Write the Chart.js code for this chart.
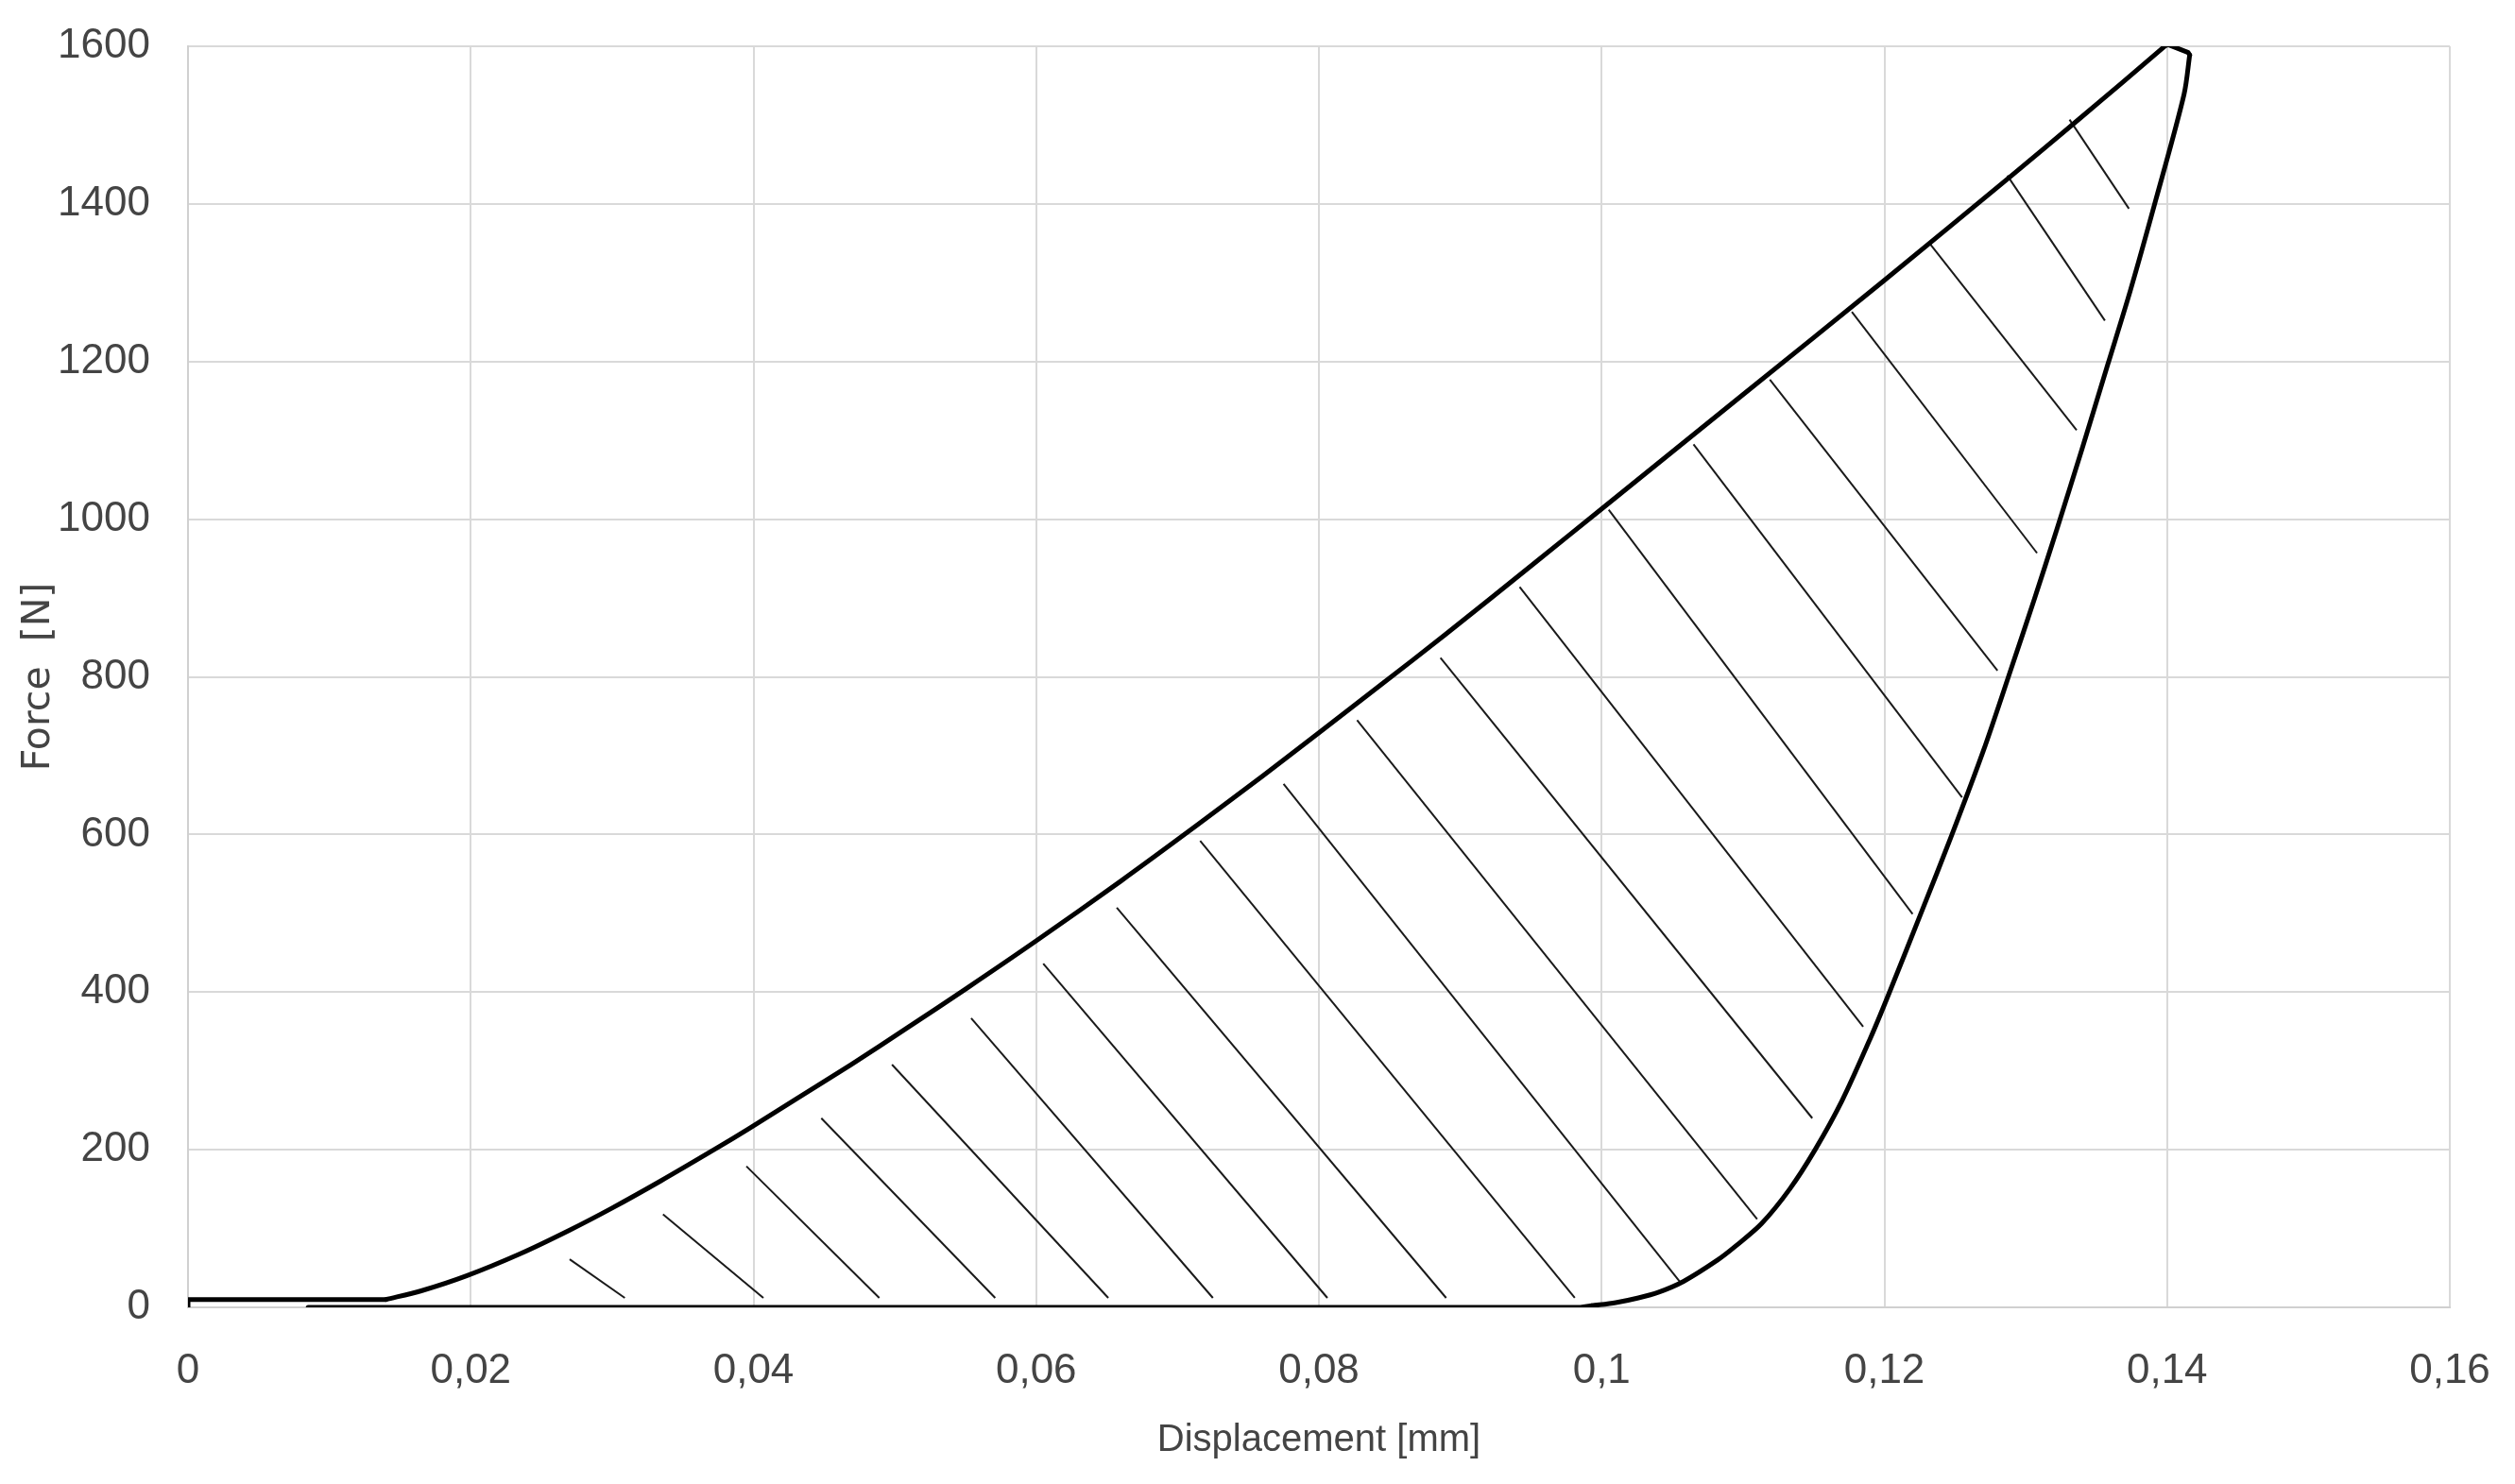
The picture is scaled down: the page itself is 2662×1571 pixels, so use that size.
<!DOCTYPE html>
<html>
<head>
<meta charset="utf-8">
<script src="https://cdn.jsdelivr.net/npm/chart.js@4.4.0/dist/chart.umd.min.js"></script>
<style>
  html, body { margin: 0; padding: 0; background: #fff; }
  #wrap { width: 2662px; height: 1571px; }
</style>
</head>
<body>
<div id="wrap"><canvas id="grafico"></canvas></div>
<script>
// loading branch (displacement mm, force N)
var loadX = [0, 0, 0.0140, 0.0165, 0.0197, 0.0235, 0.0270, 0.0300, 0.0334, 0.0374, 0.0397, 0.0430,
  0.0469, 0.0510, 0.0551, 0.0600, 0.0660, 0.0714, 0.0760, 0.0800, 0.0844, 0.0889, 0.0953, 0.1000,
  0.1100, 0.1200, 0.1290, 0.1338, 0.1367, 0.1399, 0.1401, 0.1415, 0.1416];
var loadY = [0, 10, 10, 21, 40, 68, 98, 126, 160, 202, 227, 264,
  308, 356, 405, 465, 541, 612, 674, 729, 790, 853, 945, 1013,
  1158, 1303, 1436, 1508, 1552, 1601, 1602, 1592, 1589];

// unloading branch
var unloadX = [0.1416, 0.1412, 0.1392, 0.1374, 0.1358, 0.1340, 0.1322, 0.1306, 0.1290,
  0.1270, 0.1247, 0.1227, 0.1203, 0.1190, 0.1170, 0.1151, 0.1133, 0.1113, 0.1095, 0.1082,
  0.1058, 0.1040, 0.1026, 0.1010, 0.0993, 0.0985, 0.0085];
var unloadY = [1589, 1539, 1405, 1290, 1196, 1090, 987, 898, 812,
  706, 596, 505, 397, 341, 262, 200, 150, 106, 78, 60,
  33, 19, 12, 6, 2, 0, 0];

// hatch segments: start on loading curve, end near bottom / unloading curve
var hatchX1 = [0.0270, 0.0336, 0.0395, 0.0448, 0.0498, 0.0554, 0.0605, 0.0657, 0.0716, 0.0775,
  0.0827, 0.0886, 0.0942, 0.1005, 0.1065, 0.1119, 0.1177, 0.1232, 0.1287, 0.1331];
var hatchY1 = [61, 118, 179, 240, 308, 367, 436, 507, 592, 664,
  745, 824, 914, 1012, 1095, 1177, 1263, 1350, 1436, 1507];
var hatchX2 = [0.0309, 0.0407, 0.0489, 0.0571, 0.0651, 0.0725, 0.0806, 0.0890, 0.0981, 0.1056,
  0.1110, 0.1149, 0.1185, 0.1220, 0.1255, 0.1280, 0.1308, 0.1336, 0.1356, 0.1373];
var hatchY2 = [12, 12, 12, 12, 12, 12, 12, 12, 12, 31,
  112, 240, 356, 499, 647, 808, 957, 1113, 1252, 1394];

var xTicks = [0, 0.02, 0.04, 0.06, 0.08, 0.10, 0.12, 0.14, 0.16];
var yTicks = [0, 200, 400, 600, 800, 1000, 1200, 1400, 1600];

function pares(xs, ys) {
  return xs.map(function (x, i) { return { x: x, y: ys[i] }; });
}

var carga = pares(loadX, loadY);
var descarga = pares(unloadX, unloadY);

// pieces of the curve: straight corners, smooth branches
var pedacos = [
  { pts: carga.slice(0, 3), tension: 0 },
  { pts: carga.slice(2, 30), tension: 0.3 },
  { pts: carga.slice(29), tension: 0 },
  { pts: descarga.slice(0, 25), tension: 0.3 },
  { pts: descarga.slice(24), tension: 0 }
];

var datasets = [];
pedacos.forEach(function (p, i) {
  datasets.push({
    label: 'curve' + i,
    data: p.pts,
    showLine: true,
    borderColor: '#000',
    borderWidth: 5,
    borderCapStyle: 'round',
    borderJoinStyle: 'round',
    pointRadius: 0,
    tension: p.tension,
    order: 0
  });
});

hatchX1.forEach(function (x, i) {
  datasets.push({
    label: 'hatch' + i,
    data: [{ x: x, y: hatchY1[i] }, { x: hatchX2[i], y: hatchY2[i] }],
    showLine: true,
    borderColor: '#1a1a1a',
    borderWidth: 2,
    pointRadius: 0,
    order: 1
  });
});

var cinza = '#444';
Chart.defaults.font.family = '"Liberation Sans Narrow", "Liberation Sans", sans-serif';
Chart.defaults.color = cinza;

new Chart(document.getElementById('grafico'), {
  type: 'scatter',
  data: { datasets: datasets },
  options: {
    responsive: true,
    maintainAspectRatio: false,
    animation: false,
    layout: { padding: { top: 49, right: 69, left: 0, bottom: 0 } },
    plugins: { legend: { display: false }, tooltip: { enabled: false } },
    scales: {
      x: {
        type: 'linear',
        min: 0,
        max: 0.16,
        afterBuildTicks: function (scale) {
          scale.ticks = xTicks.map(function (v) { return { value: v }; });
        },
        afterFit: function (scale) {
          scale.height = 187;
          scale.paddingLeft = 0;
          scale.paddingRight = 0;
        },
        grid: { color: '#d9d9d9', lineWidth: 2, drawTicks: false },
        border: { color: '#d0d0d0', width: 2 },
        ticks: {
          padding: 41,
          font: { size: 44 },
          color: cinza,
          maxRotation: 0,
          callback: function (v) {
            return String(Math.round(v * 100) / 100).replace('.', ',');
          }
        },
        title: {
          display: true,
          text: 'Displacement [mm]',
          color: cinza,
          font: { size: 40 },
          padding: { top: 0, bottom: 22 }
        }
      },
      y: {
        type: 'linear',
        min: 0,
        max: 1600,
        afterBuildTicks: function (scale) {
          scale.ticks = yTicks.map(function (v) { return { value: v }; });
        },
        afterFit: function (scale) {
          scale.width = 199;
          scale.paddingTop = 0;
          scale.paddingBottom = 0;
        },
        grid: { color: '#d9d9d9', lineWidth: 2, drawTicks: false },
        border: { color: '#d0d0d0', width: 2 },
        ticks: {
          padding: 40,
          font: { size: 44 },
          color: cinza,
          callback: function (v) { return String(v); }
        },
        title: {
          display: true,
          text: 'Force  [N]',
          color: cinza,
          font: { family: '"DejaVu Sans", sans-serif', size: 41 },
          padding: { top: 17, bottom: 0 }
        }
      }
    }
  }
});
</script>
</body>
</html>
